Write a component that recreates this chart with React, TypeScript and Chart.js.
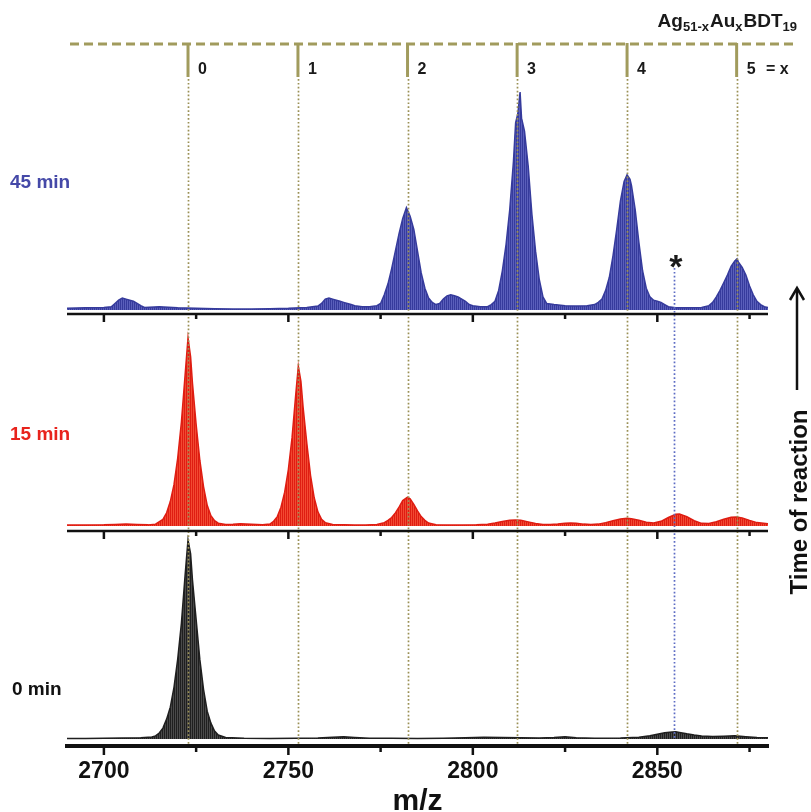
import React, { useEffect, useRef } from 'react';
import { Chart, registerables } from 'chart.js';

Chart.register(...registerables);

// m/z window and axis ticks
const MZ_MIN = 2690;
const MZ_MAX = 2880;
const MAJOR_TICKS = [2700, 2750, 2800, 2850];
const MINOR_TICKS = [2725, 2775, 2825, 2875];

// Number of Au atoms (x) and the m/z of each Ag(51-x)Au(x)BDT(19) species
const AU_COUNT = ['0', '1', '2', '3', '4', '5'];
const AU_MZ = [2722.8, 2752.6, 2782.3, 2812.0, 2841.8, 2871.5];
const STAR_MZ = 2854.5;

// 45 min spectrum (relative intensity)
const MZ_45 = [
  2690, 2695, 2700, 2702, 2703, 2704, 2705, 2706, 2707, 2708, 2709, 2710, 2711, 2715, 2720, 2725, 2730, 2735,
  2740, 2745, 2750, 2755, 2758, 2759, 2760, 2761, 2762, 2763, 2764, 2765, 2766, 2767, 2768, 2770, 2772, 2774,
  2775, 2776, 2777, 2778, 2779, 2780, 2781, 2782, 2783, 2784, 2785, 2786, 2787, 2788, 2789, 2790, 2791, 2792,
  2793, 2794, 2795, 2796, 2797, 2798, 2799, 2800, 2802, 2804, 2805, 2806, 2807, 2808, 2809, 2810, 2811, 2811.6,
  2812.2, 2812.8, 2813.2, 2814, 2815, 2816, 2817, 2818, 2819, 2820, 2822, 2825, 2828, 2831, 2833, 2834, 2835,
  2836, 2837, 2838, 2839, 2840, 2841, 2841.8, 2842.6, 2843, 2844, 2845, 2846, 2847, 2848, 2849, 2850, 2851,
  2852, 2853, 2855, 2858, 2862, 2864, 2865, 2866, 2867, 2868, 2869, 2870, 2871, 2871.6, 2872, 2873, 2874, 2875,
  2876, 2877, 2878, 2879, 2880,
];
const INT_45 = [
  0.8, 1.0, 1.2, 1.5, 3, 4.5, 5.5, 5, 4.5, 4, 3, 2, 1.2, 1.5, 1.0, 0.8, 0.6, 0.5,
  0.5, 0.6, 0.8, 1.2, 1.8, 3, 5, 5.5, 5, 4.5, 4, 3.5, 3, 2.5, 2, 1.5, 1.5, 2,
  3, 7, 12, 19, 27, 35, 42, 47, 43, 37, 27, 17, 10, 5.5, 3.5, 2.5, 3, 5,
  6.5, 7, 6.5, 6, 5, 4, 2.5, 2, 1.5, 1.5, 2.5, 4, 9, 18, 30, 46, 68, 86,
  90, 100, 88, 82, 66, 44, 27, 14, 6, 3, 2.5, 2, 1.8, 2, 2.5, 3.5, 5,
  9, 15, 25, 37, 50, 59, 62, 60, 57, 46, 31, 18, 10, 6, 4.5, 4, 3.5,
  2.5, 1.5, 1, 1, 1.2, 2, 3.5, 6, 9, 12.5, 16, 20, 22.5, 23.5, 22, 19.5, 16, 11,
  7, 4, 2.5, 1.5, 1.2,
];

// 15 min spectrum (relative intensity)
const MZ_15 = [
  2690, 2695, 2700, 2703, 2706, 2709, 2712, 2714, 2716, 2717, 2718, 2719, 2720, 2721, 2722, 2722.8, 2723.5,
  2724, 2725, 2726, 2727, 2728, 2729, 2730, 2731, 2733, 2735, 2737, 2740, 2743, 2745, 2746, 2747, 2748, 2749,
  2750, 2751, 2752, 2752.7, 2753.4, 2754, 2755, 2756, 2757, 2758, 2759, 2760, 2762, 2765, 2768, 2771, 2774,
  2776, 2777, 2778, 2779, 2780, 2781, 2782.3, 2783, 2784, 2785, 2786, 2787, 2788, 2790, 2793, 2797, 2801,
  2804, 2806, 2808, 2810, 2811.5, 2813, 2815, 2817, 2819, 2821, 2823, 2825, 2826.5, 2828, 2830, 2832, 2834,
  2836, 2838, 2840, 2841.8, 2843, 2845, 2847, 2849, 2851, 2853, 2855, 2856, 2858, 2860, 2862, 2864, 2866,
  2868, 2870, 2871.5, 2873, 2875, 2877, 2880,
];
const INT_15 = [
  0.5, 0.5, 0.6, 0.8, 1.1, 0.8, 0.6, 1, 3.5, 7, 13, 22, 36, 55, 80, 100, 90,
  76, 54, 35, 21, 11, 5.5, 2.8, 1.5, 0.8, 0.9, 1.2, 0.9, 0.7, 1, 2.5, 5, 10, 18,
  30, 47, 70, 85, 77, 63, 44, 27, 15, 7.5, 3.5, 1.8, 0.8, 0.6, 0.5, 0.5, 0.8,
  1.8, 3, 4.5, 7, 10, 13.5, 15.4, 14.5, 11.5, 8, 5, 3, 1.6, 0.7, 0.5, 0.5, 0.6,
  0.9, 1.6, 2.4, 3, 3.2, 3, 2.2, 1.3, 0.8, 0.8, 1.1, 1.5, 1.6, 1.4, 1, 0.8, 1,
  1.8, 2.8, 3.7, 4.1, 3.9, 3.1, 2, 1.6, 2.5, 4.5, 6.2, 6.4, 5, 2.8, 1.4, 1.3, 2.3,
  3.6, 4.6, 4.8, 4.3, 3, 1.8, 1.2,
];

// 0 min spectrum (relative intensity)
const MZ_0 = [
  2690, 2695, 2700, 2705, 2710, 2713, 2714, 2715, 2716, 2717, 2718, 2719, 2720, 2721, 2722, 2722.8, 2723.5,
  2724, 2725, 2726, 2727, 2728, 2729, 2730, 2731, 2733, 2738, 2745, 2752, 2758, 2762, 2765, 2768, 2772, 2778,
  2785, 2792, 2798, 2803, 2808, 2813, 2818, 2822, 2825, 2828, 2833, 2840, 2845, 2848, 2850, 2852, 2854, 2855,
  2856, 2858, 2860, 2862, 2865, 2868, 2871, 2874, 2877, 2880,
];
const INT_0 = [
  0.3, 0.3, 0.4, 0.5, 0.6, 1, 1.6, 3, 5.5, 10, 16, 26, 40, 58, 82, 100, 93,
  80, 60, 40, 25, 14, 8, 4, 2, 0.8, 0.4, 0.3, 0.4, 0.5, 0.9, 1.1, 0.8, 0.4, 0.4,
  0.3, 0.4, 0.6, 0.9, 0.8, 0.6, 0.5, 0.8, 1.2, 0.7, 0.4, 0.5, 0.9, 1.6, 2.4, 3.2, 3.5, 3.6,
  3.3, 2.6, 2, 1.5, 1.3, 1.4, 1.6, 1.2, 0.8, 0.6,
];

const PANEL_LABELS = ['45 min', '15 min', '0 min'];

const FONT = '"Liberation Sans", Arial, Helvetica, sans-serif';
const OLIVE = '#a19b5d';
const OLIVE_DOT = '#9a9055';
const BLUE = { dark: '#363b9c', light: '#5a5fbb', label: '#4549a8' };
const RED = { dark: '#df1d12', light: '#f24a32', label: '#e8231c' };
const GREY = { dark: '#1f1f1f', light: '#4a4a4a', label: '#111111' };

// isotope-comb texture used to fill each spectrum
function stripes(ctx: CanvasRenderingContext2D, dark: string, light: string) {
  const tile = document.createElement('canvas');
  tile.width = 2;
  tile.height = 2;
  const g = tile.getContext('2d')!;
  g.fillStyle = light;
  g.fillRect(0, 0, 2, 2);
  g.fillStyle = dark;
  g.fillRect(0, 0, 1, 2);
  return ctx.createPattern(tile, 'repeat');
}

const toPoints = (mz: number[], v: number[]) => mz.map((m, i) => ({ x: m, y: v[i] }));

const decorations = {
  id: 'decorations',
  afterDatasetsDraw(chart: any) {
    const { ctx, chartArea: area } = chart;
    const x = chart.scales.x;
    ctx.save();

    // dotted guides for each Au-substituted species
    ctx.strokeStyle = OLIVE_DOT;
    ctx.lineWidth = 1.7;
    ctx.setLineDash([1.7, 2.2]);
    AU_MZ.forEach((m) => {
      const px = Math.round(x.getPixelForValue(m)) + 0.5;
      ctx.beginPath();
      ctx.moveTo(px, 79);
      ctx.lineTo(px, area.bottom - 2);
      ctx.stroke();
    });
    // dotted guide under the asterisk
    ctx.strokeStyle = '#5d6cc4';
    const sx = Math.round(x.getPixelForValue(STAR_MZ)) + 0.5;
    ctx.beginPath();
    ctx.moveTo(sx, 268);
    ctx.lineTo(sx, area.bottom - 6);
    ctx.stroke();
    ctx.setLineDash([]);

    // baseline axes of the two upper panels, and tick marks on all three
    ctx.strokeStyle = '#111';
    const panelAxes = [chart.scales.yBlue.bottom, chart.scales.yRed.bottom];
    ctx.lineWidth = 2.5;
    panelAxes.forEach((y: number) => {
      ctx.beginPath();
      ctx.moveTo(area.left, y);
      ctx.lineTo(area.right, y);
      ctx.stroke();
    });
    const tickRows = [...panelAxes.map((y: number) => y + 1), area.bottom + 2];
    tickRows.forEach((y0: number) => {
      MAJOR_TICKS.forEach((m) => {
        const px = x.getPixelForValue(m);
        ctx.beginPath();
        ctx.moveTo(px, y0);
        ctx.lineTo(px, y0 + 7);
        ctx.stroke();
      });
      MINOR_TICKS.forEach((m) => {
        const px = x.getPixelForValue(m);
        ctx.beginPath();
        ctx.moveTo(px, y0);
        ctx.lineTo(px, y0 + 4);
        ctx.stroke();
      });
    });
    ctx.restore();
  },
  afterDraw(chart: any) {
    const { ctx } = chart;
    const x = chart.scales.x;
    ctx.save();

    // dashed header line with a marker per species
    ctx.strokeStyle = OLIVE;
    ctx.lineWidth = 3;
    ctx.setLineDash([9, 5]);
    ctx.beginPath();
    ctx.moveTo(70, 44);
    ctx.lineTo(797, 44);
    ctx.stroke();
    ctx.setLineDash([]);
    ctx.fillStyle = '#1a1a1a';
    ctx.font = `bold 16px ${FONT}`;
    ctx.textBaseline = 'middle';
    ctx.textAlign = 'left';
    AU_MZ.forEach((m, i) => {
      const px = x.getPixelForValue(m);
      ctx.strokeStyle = OLIVE;
      ctx.lineWidth = 3;
      ctx.beginPath();
      ctx.moveTo(px, 43);
      ctx.lineTo(px, 77);
      ctx.stroke();
      ctx.fillText(AU_COUNT[i], px + 10, 70);
    });
    ctx.fillText('= x', 766, 70);

    // formula Ag51-xAuxBDT19
    const parts: [string, boolean][] = [['Ag', false], ['51-x', true], ['Au', false], ['x', true], ['BDT', false], ['19', true]];
    const bigFont = `bold 19px ${FONT}`;
    const subFont = `bold 13px ${FONT}`;
    let total = 0;
    parts.forEach(([t, sub]) => {
      ctx.font = sub ? subFont : bigFont;
      total += ctx.measureText(t).width + (sub ? 1 : 0);
    });
    let cx = 798 - total;
    ctx.textBaseline = 'alphabetic';
    ctx.fillStyle = '#1a1a1a';
    parts.forEach(([t, sub]) => {
      ctx.font = sub ? subFont : bigFont;
      ctx.fillText(t, cx, sub ? 31 : 27);
      cx += ctx.measureText(t).width + (sub ? 1 : 0);
    });

    // asterisk above the unassigned feature
    ctx.font = `bold 34px ${FONT}`;
    ctx.textAlign = 'center';
    ctx.fillText('*', x.getPixelForValue(STAR_MZ) + 2, 278);

    // panel labels
    ctx.textAlign = 'left';
    ctx.textBaseline = 'middle';
    ctx.font = `bold 19px ${FONT}`;
    const labelColors = [BLUE.label, RED.label, GREY.label];
    const labelY = [183, 435, 690];
    PANEL_LABELS.forEach((t, i) => {
      ctx.fillStyle = labelColors[i];
      ctx.fillText(t, i === 2 ? 12 : 10, labelY[i]);
    });

    // reaction-time arrow
    ctx.strokeStyle = '#111';
    ctx.fillStyle = '#111';
    ctx.lineWidth = 2.5;
    ctx.beginPath();
    ctx.moveTo(797, 390);
    ctx.lineTo(797, 289);
    ctx.stroke();
    ctx.beginPath();
    ctx.moveTo(790, 300);
    ctx.lineTo(797, 288);
    ctx.lineTo(804, 300);
    ctx.stroke();
    ctx.translate(800, 502);
    ctx.rotate(-Math.PI / 2);
    ctx.font = `bold 24px ${FONT}`;
    ctx.textAlign = 'center';
    ctx.textBaseline = 'middle';
    ctx.fillText('Time of reaction', 0, 0);
    ctx.restore();
  },
};

export default function App() {
  const canvasRef = useRef<HTMLCanvasElement | null>(null);

  useEffect(() => {
    const canvas = canvasRef.current;
    if (!canvas) return;
    const ctx = canvas.getContext('2d')!;

    const series = [
      { mz: MZ_45, v: INT_45, axis: 'yBlue', c: BLUE },
      { mz: MZ_15, v: INT_15, axis: 'yRed', c: RED },
      { mz: MZ_0, v: INT_0, axis: 'yBlack', c: GREY },
    ];

    const hiddenY = (min: number, max: number, weight: number) => ({
      type: 'linear' as const,
      position: 'left' as const,
      stack: 'panels',
      stackWeight: weight,
      min,
      max,
      grid: { display: false, drawTicks: false },
      border: { display: false },
      ticks: { display: false },
    });

    const chart = new Chart(ctx, {
      type: 'line',
      data: {
        datasets: series.map((s, i) => ({
          label: PANEL_LABELS[i],
          data: toPoints(s.mz, s.v),
          yAxisID: s.axis,
          borderColor: s.c.dark,
          borderWidth: 1.5,
          backgroundColor: stripes(ctx, s.c.dark, s.c.light) as any,
          fill: 'origin',
          pointRadius: 0,
          tension: 0,
        })),
      },
      options: {
        animation: false,
        responsive: false,
        devicePixelRatio: 1,
        layout: { padding: { left: 67, right: 43, top: 80, bottom: 0 } },
        plugins: { legend: { display: false }, tooltip: { enabled: false } },
        scales: {
          x: {
            type: 'linear',
            position: 'bottom',
            min: MZ_MIN,
            max: MZ_MAX,
            afterBuildTicks: (s: any) => {
              s.ticks = MAJOR_TICKS.map((v) => ({ value: v }));
            },
            afterFit: (s: any) => {
              s.height = 66;
            },
            grid: { display: true, drawOnChartArea: false, drawTicks: false },
            border: { display: true, color: '#111', width: 4 },
            ticks: {
              padding: 12,
              color: '#111',
              font: { family: FONT, size: 23, weight: 'bold' },
              callback: (v: any) => String(v),
            },
            title: {
              display: true,
              text: 'm/z',
              color: '#111',
              padding: { top: 0, bottom: 0 },
              font: { family: FONT, size: 30, weight: 'bold', lineHeight: 0.7 },
            },
          },
          yBlack: hiddenY(-3.5, 104.5, 215),
          yRed: hiddenY(-2.66, 112.8, 217),
          yBlue: hiddenY(-1.83, 105.5, 234),
        },
      } as any,
      plugins: [decorations],
    });

    return () => chart.destroy();
  }, []);

  return (
    <div style={{ position: 'absolute', left: 0, top: 0, width: 811, height: 812, background: '#fff' }}>
      <canvas ref={canvasRef} width={811} height={812} style={{ display: 'block' }} />
    </div>
  );
}
